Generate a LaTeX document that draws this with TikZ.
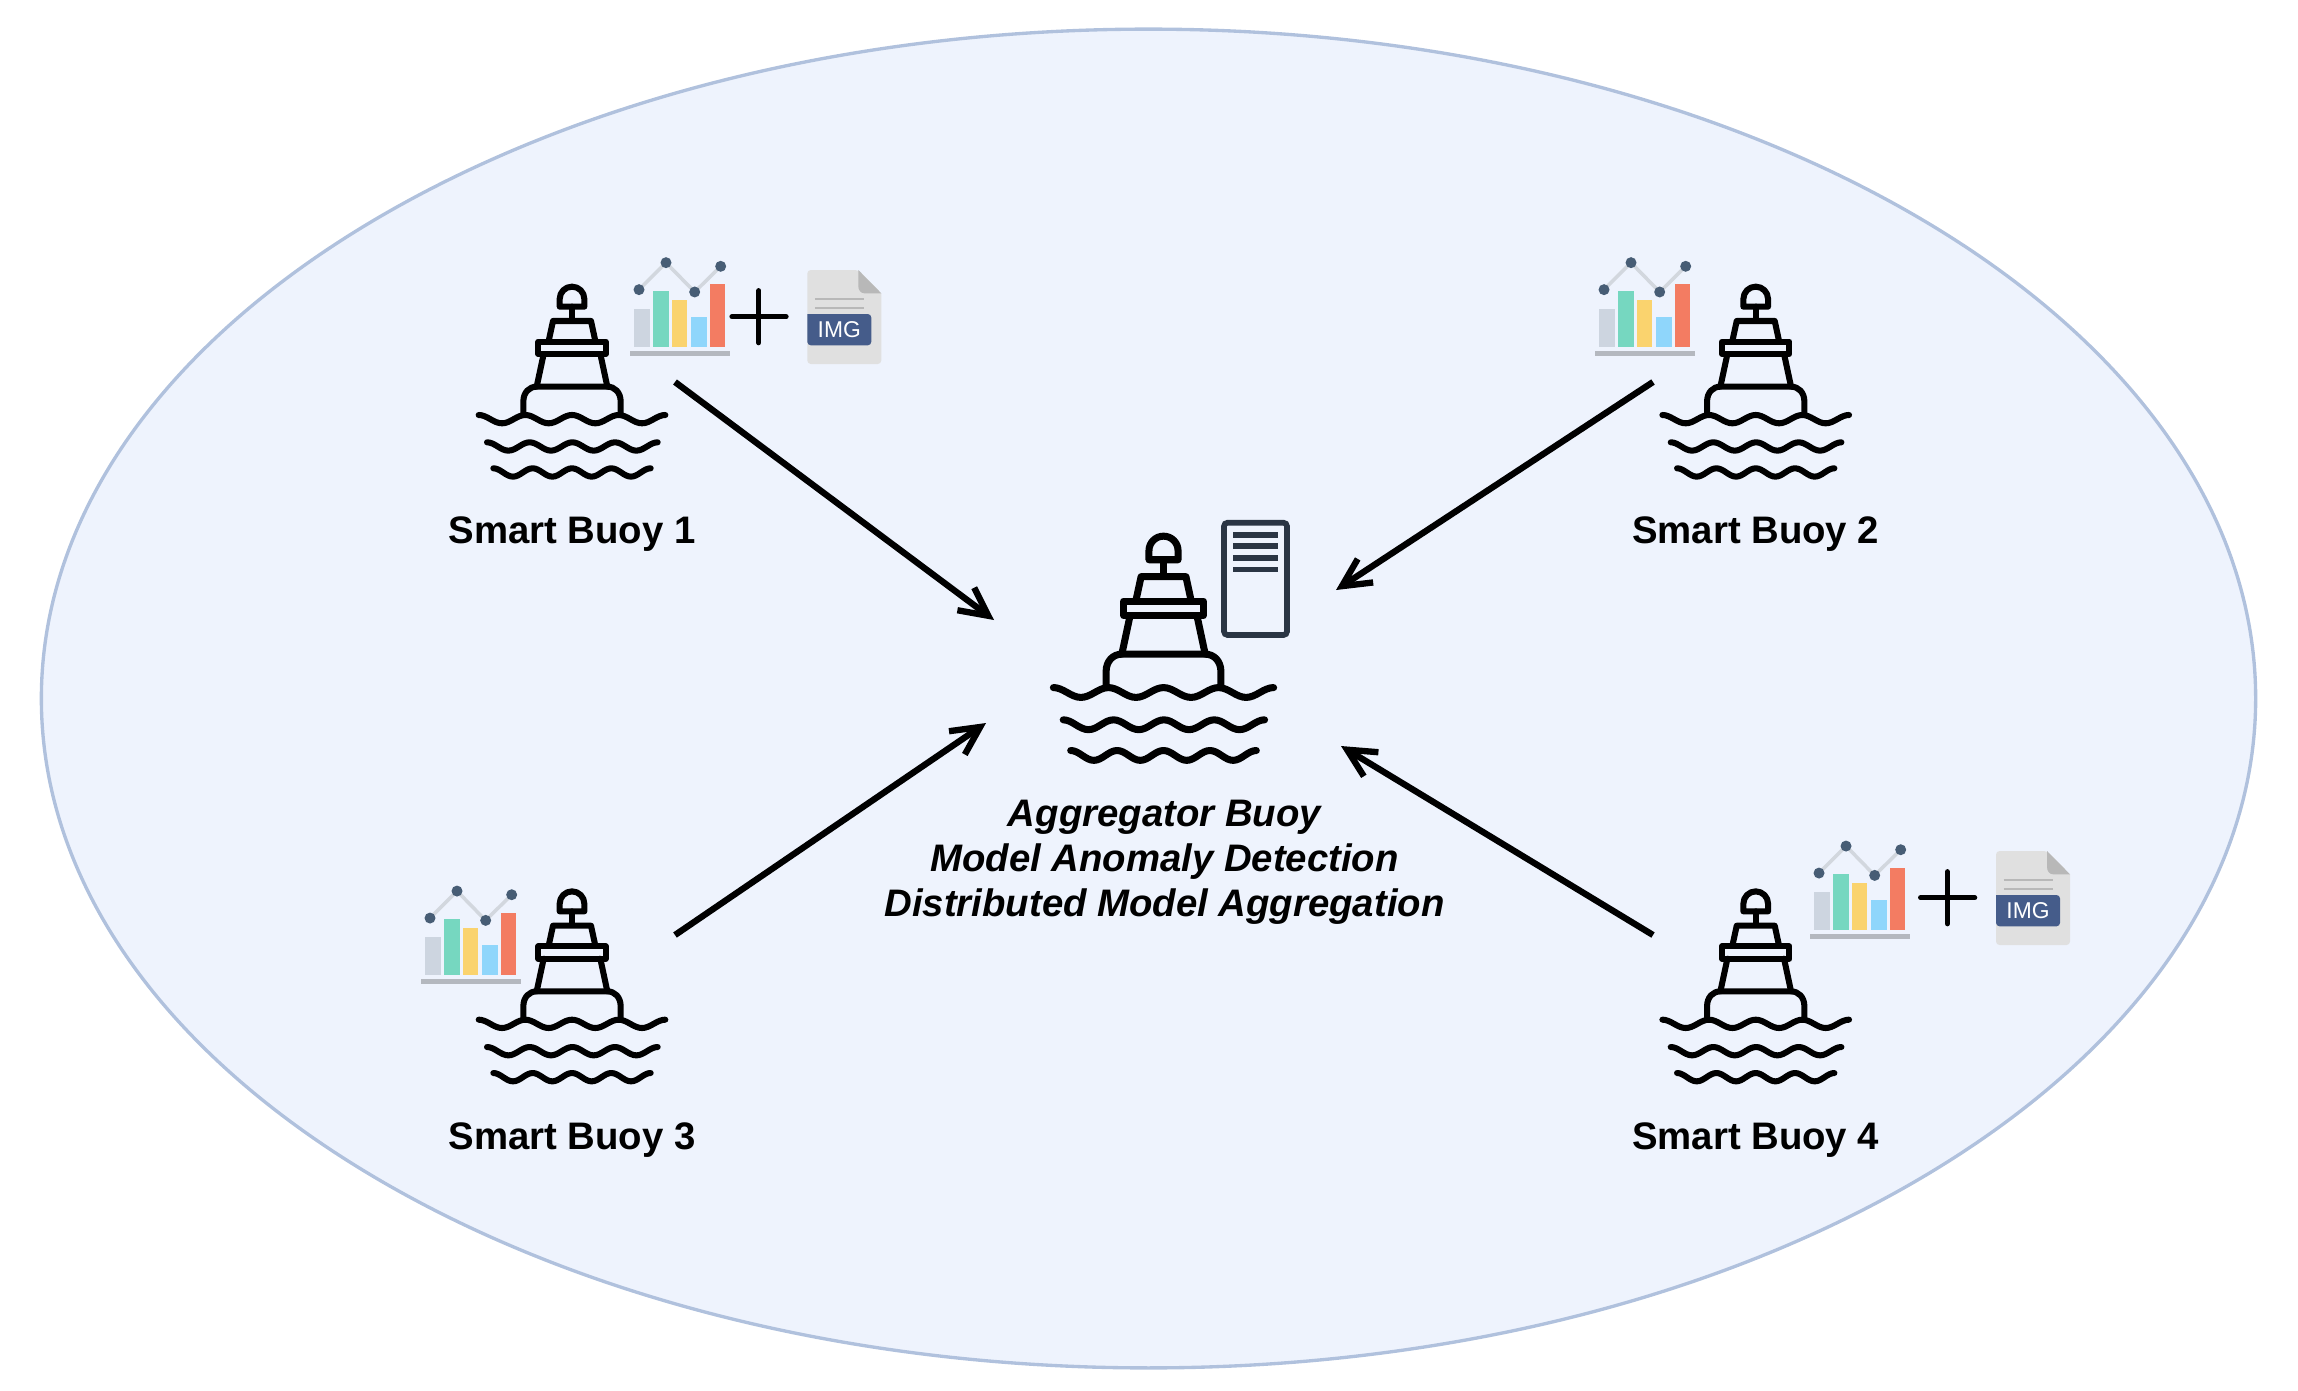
\documentclass[tikz,border=0pt]{standalone}
\usepackage{fontspec}
\setmainfont{Liberation Sans}
\usepackage{tikz}
\usepackage{xcolor}
\usetikzlibrary{shapes.geometric, arrows.meta, positioning}

\definecolor{seafill}{HTML}{EEF3FD}
\definecolor{seaedge}{HTML}{B0C1DD}
\definecolor{inkdoc}{HTML}{2A3544}
\definecolor{dotblue}{HTML}{475D75}
\definecolor{trendgray}{HTML}{D2D7DE}
\definecolor{bargray}{HTML}{CDD5E0}
\definecolor{barteal}{HTML}{76D7C0}
\definecolor{baryellow}{HTML}{FAD36E}
\definecolor{barblue}{HTML}{8FD6FB}
\definecolor{barred}{HTML}{F37C62}
\definecolor{basegray}{HTML}{B4B8BF}
\definecolor{filegray}{HTML}{E0E0E0}
\definecolor{foldgray}{HTML}{B8B8B8}
\definecolor{fileband}{HTML}{455C8A}

\tikzset{
  buoyline/.style={line width=1.72pt, line cap=round, line join=round},
  buoylabel/.style={inner sep=0pt, font=\fontsize{10.9}{12.75}\selectfont\bfseries},
  flow/.style={line width=1.8pt, -{Straight Barb[length=8pt,width=8pt,line width=1.8pt]}},
  pics/buoy/.style={code={
    \draw[buoyline] (-37,-335) -- (-37,-358) arc (180:360:37) -- (37,-335) -- cycle;
    \draw[buoyline] (0,-335) -- (0,-295);
    \draw[buoyline] (-70,-232) -- (-57,-292) -- (57,-292) -- (70,-232);
    \draw[buoyline] (-101,-230) rectangle (101,-193);
    \draw[buoyline] (-85,-193) -- (-106,-95);
    \draw[buoyline] (85,-193) -- (106,-95);
    \draw[buoyline] (-146,-10) -- (-146,-50) .. controls (-146,-78) and (-128,-95) .. (-106,-95)
      -- (106,-95) .. controls (128,-95) and (146,-78) .. (146,-50) -- (146,-10);
    % Waves
    \foreach \xs/\hp/\yc/\yt in {-280/70/-10/15, -255/64/72/97, -236/59/150/175}
      \draw[buoyline] plot[domain=0:8, samples=65, smooth]
        ({\xs+\hp*\x},{(\yc+\yt)/2+(\yc-\yt)/2*cos(180*\x)});
  }},
  pics/chart/.style={code={
    \fill[bargray] (-138,-20) rectangle (-90,-133);
    \fill[barteal] (-80,-20) rectangle (-34,-187);
    \fill[baryellow] (-24,-20) rectangle (22,-161);
    \fill[barblue] (34,-20) rectangle (80,-109);
    \fill[barred] (90,-20) rectangle (136,-207);
    \fill[basegray] (-150,-7) rectangle (150,7);
    \draw[trendgray, line width=1pt] (-123,-191) -- (-42,-272) -- (44,-184) -- (122,-261);
    \foreach \px/\py in {-123/-191, -42/-272, 44/-184, 122/-261}
      \fill[dotblue] (\px,\py) circle (16.5);
  }},
  pics/plus/.style={code={
    \draw[line width=1.5pt, line cap=round] (-80,0) -- (82,0);
    \draw[line width=1.5pt, line cap=round] (0,-78) -- (0,78);
  }},
  pics/imgfile/.style={code={
    \fill[filegray, rounded corners=1pt] (0,0) -- (153,0) [sharp corners] -- (222,70) [rounded corners=1pt] -- (222,282) -- (0,282) -- cycle;
    \fill[foldgray] (153,0) -- (222,70) -- (172,70) .. controls (160,70) and (153,60) .. (153,48) -- cycle;
    \draw[foldgray, line width=.55pt] (23,88) -- (170,88);
    \draw[foldgray, line width=.55pt] (23,113) -- (170,113);
    \fill[fileband, rounded corners=1pt] (0,132) -- (192,132) -- (192,226) -- (0,226) [sharp corners] -- cycle;
    \node[text=white, inner sep=0pt, font=\fontsize{6.5}{7}\selectfont] (-tag) at (96,179) {IMG};
  }},
  pics/ledger/.style={code={
    \draw[inkdoc, line width=1.6pt, rounded corners=1pt] (0,0) rectangle (189,337);
    \foreach \ly in {36,70,105,140}
      \draw[inkdoc, line width=1.6pt] (28,\ly) -- (162,\ly);
  }},
}

\begin{document}
\begin{tikzpicture}[x=0.01cm, y=-0.01cm]
\useasboundingbox (0,0) rectangle (2298,1390);

% Region
\node[ellipse, draw=seaedge, fill=seafill, line width=.95pt, inner sep=0pt,
  minimum width=22.13cm, minimum height=13.38cm] (region) at (1148.5,698.5) {};

% Anchor points of the buoys
\coordinate (b1) at (572,418.3);
\coordinate (b2) at (1755.7,418.3);
\coordinate (b3) at (572,1023);
\coordinate (b4) at (1755.7,1023);
\coordinate (bmain) at (1163.5,691.5);

% Buoys
\pic[scale=.3333] at (b1) {buoy};
\pic[scale=.3333] at (b2) {buoy};
\pic[scale=.3333] at (b3) {buoy};
\pic[scale=.3333] at (b4) {buoy};
\pic[scale=.3933, buoyline/.append style={line width=2pt}] at (bmain) {buoy};

% Labels
\node[buoylabel, below=0.98cm of b1] (lab1) {Smart Buoy 1};
\node[buoylabel, below=0.98cm of b2] (lab2) {Smart Buoy 2};
\node[buoylabel, below=0.99cm of b3] (lab3) {Smart Buoy 3};
\node[buoylabel, below=0.99cm of b4] (lab4) {Smart Buoy 4};
\node[inner sep=0pt, align=center, below=1.08cm of bmain, xshift=.01cm,
  font=\fontsize{10.9}{12.75}\selectfont\bfseries\itshape] (lab5)
  {Aggregator Buoy\\Model Anomaly Detection\\Distributed Model Aggregation};

% Data held by the buoys
\pic[scale=.3333] at (680,353.3) {chart};
\pic[scale=.3333] at (1645,353.3) {chart};
\pic[scale=.3333] at (471,981.7) {chart};
\pic[scale=.3333] at (1860,936.7) {chart};
\pic[scale=.3333] at (758.7,316.7) {plus};
\pic[scale=.3333] at (1947.3,897.7) {plus};
\pic[scale=.3333] (file1) at (807.3,270) {imgfile};
\pic[scale=.3333] (file4) at (1996,851) {imgfile};
\pic[scale=.3333] at (1224,522.7) {ledger};

% Uploads
\coordinate (s1) at (675,382);
\coordinate (t1) at (994,620);
\coordinate (s2) at (1653,382);
\coordinate (t2) at (1336,590);
\coordinate (s3) at (675,935);
\coordinate (t3) at (986,723);
\coordinate (s4) at (1653,935);
\coordinate (t4) at (1341,746);
\draw[flow] (s1) -- (t1);
\draw[flow] (s2) -- (t2);
\draw[flow] (s3) -- (t3);
\draw[flow] (s4) -- (t4);
\end{tikzpicture}
\end{document}
